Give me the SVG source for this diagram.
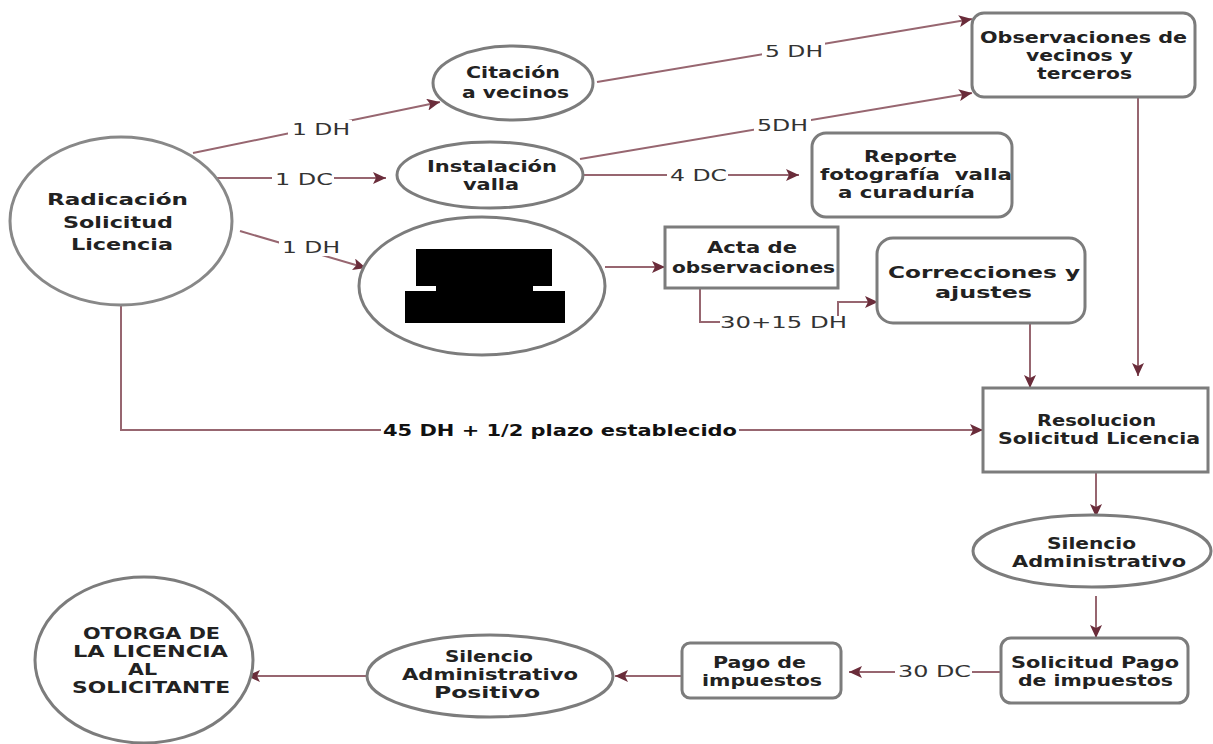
<svg xmlns="http://www.w3.org/2000/svg" width="1213" height="744" viewBox="0 0 1213 744">
<style>
.n{fill:#fff;stroke:#7c7c7c;stroke-width:3}
.t{font-family:"DejaVu Sans",Verdana,sans-serif;font-weight:bold;font-size:16px;fill:#222}
.tc{font-family:"DejaVu Sans",Verdana,sans-serif;font-weight:bold;font-size:16px;fill:#222}
.e{fill:none;stroke:#976670;stroke-width:2}
.l{font-family:"DejaVu Sans",Verdana,sans-serif;font-size:16px;fill:#333}
.lb{font-family:"DejaVu Sans",Verdana,sans-serif;font-weight:bold;font-size:16px;fill:#111}
.bg{fill:#fff}
</style>
<defs>
<marker id="a" markerUnits="userSpaceOnUse" markerWidth="14" markerHeight="12" refX="13" refY="6" orient="auto">
<path d="M0,0 L13,6 L0,12 L3,6 Z" fill="#6a2c3a"/>
</marker>
</defs>
<rect width="1213" height="744" fill="#fff"/>
<g id="connectors">
<path class="e" d="M193,153 L440,102" marker-end="url(#a)"/>
<path class="e" d="M213,178 L386,178" marker-end="url(#a)"/>
<path class="e" d="M240,231 L366,268" marker-end="url(#a)"/>
<path class="e" d="M597,82 L972,19" marker-end="url(#a)"/>
<path class="e" d="M580,159 L972,93" marker-end="url(#a)"/>
<path class="e" d="M583,175 L799,175" marker-end="url(#a)"/>
<path class="e" d="M605,267 L665,267" marker-end="url(#a)"/>
<path class="e" d="M700,288 V322 H720"/>
<path class="e" d="M838,316 V302 H878" marker-end="url(#a)"/>
<path class="e" d="M1030,323 V388" marker-end="url(#a)"/>
<path class="e" d="M1138,97 V376" marker-end="url(#a)"/>
<path class="e" d="M121,305 V430 H983" marker-end="url(#a)"/>
<path class="e" d="M1096,472 V517" marker-end="url(#a)"/>
<path class="e" d="M1096,596 V638" marker-end="url(#a)"/>
<path class="e" d="M1001,672 H849" marker-end="url(#a)"/>
<path class="e" d="M682,676 H615" marker-end="url(#a)"/>
<path class="e" d="M367,676 H247" marker-end="url(#a)"/>
<rect class="bg" x="288" y="120" width="64" height="18"/>
<text class="l" x="292" y="135" textLength="58" lengthAdjust="spacingAndGlyphs">1 DH</text>
<rect class="bg" x="272" y="171" width="62" height="16"/>
<text class="l" x="275" y="185" textLength="58" lengthAdjust="spacingAndGlyphs">1 DC</text>
<rect class="bg" x="279" y="239" width="64" height="17"/>
<text class="l" x="282" y="253" textLength="58" lengthAdjust="spacingAndGlyphs">1 DH</text>
<rect class="bg" x="762" y="42" width="63" height="17"/>
<text class="l" x="765" y="57" textLength="58" lengthAdjust="spacingAndGlyphs">5 DH</text>
<rect class="bg" x="754" y="116" width="57" height="17"/>
<text class="l" x="757" y="131" textLength="51" lengthAdjust="spacingAndGlyphs">5DH</text>
<rect class="bg" x="667" y="167" width="61" height="16"/>
<text class="l" x="670" y="181" textLength="57" lengthAdjust="spacingAndGlyphs">4 DC</text>
<text class="l" x="720" y="328" textLength="127" lengthAdjust="spacingAndGlyphs">30+15 DH</text>
<rect class="bg" x="895" y="663" width="77" height="16"/>
<text class="l" x="898" y="677" textLength="73" lengthAdjust="spacingAndGlyphs">30 DC</text>
<rect class="bg" x="381" y="421" width="358" height="18"/>
<text class="lb" x="383" y="436" textLength="354" lengthAdjust="spacingAndGlyphs">45 DH + 1/2 plazo establecido</text>
</g>
<g id="radicacion">
<ellipse class="n" cx="121" cy="221" rx="111" ry="84" style="stroke:#888"/>
<text class="t" x="47" y="205" textLength="141" lengthAdjust="spacingAndGlyphs">Radicación</text>
<text class="t" x="63" y="228" textLength="110" lengthAdjust="spacingAndGlyphs">Solicitud</text>
<text class="t" x="71" y="250" textLength="102" lengthAdjust="spacingAndGlyphs">Licencia</text>
</g>
<g id="citacion">
<ellipse class="n" cx="513" cy="83" rx="80" ry="37"/>
<text class="t" x="466" y="78" textLength="94" lengthAdjust="spacingAndGlyphs">Citación</text>
<text class="t" x="462" y="98" textLength="107" lengthAdjust="spacingAndGlyphs">a vecinos</text>
</g>
<g id="instalacion">
<ellipse class="n" cx="490" cy="175" rx="93" ry="33"/>
<text class="t" x="427" y="172" textLength="130" lengthAdjust="spacingAndGlyphs">Instalación</text>
<text class="t" x="463" y="190" textLength="56" lengthAdjust="spacingAndGlyphs">valla</text>
</g>
<g id="redactado">
<ellipse class="n" cx="482" cy="286" rx="123" ry="69"/>
<rect x="416" y="249" width="136" height="37" fill="#000"/>
<rect x="436" y="285" width="97" height="7" fill="#000"/>
<rect x="405" y="291" width="160" height="32" fill="#000"/>
</g>
<g id="observaciones">
<rect class="n" x="972" y="13" width="223" height="84" rx="12"/>
<text class="t" x="980" y="43" textLength="207" lengthAdjust="spacingAndGlyphs">Observaciones de</text>
<text class="t" x="1026" y="61" textLength="107" lengthAdjust="spacingAndGlyphs">vecinos y</text>
<text class="t" x="1037" y="79" textLength="95" lengthAdjust="spacingAndGlyphs">terceros</text>
</g>
<g id="reporte">
<rect class="n" x="812" y="133" width="200" height="84" rx="14"/>
<text class="t" x="864" y="162" textLength="93" lengthAdjust="spacingAndGlyphs">Reporte</text>
<text class="t" x="820" y="180" textLength="192" lengthAdjust="spacingAndGlyphs">fotografía&#160; valla</text>
<text class="t" x="838" y="198" textLength="137" lengthAdjust="spacingAndGlyphs">a curaduría</text>
</g>
<g id="acta">
<rect class="n" x="665" y="227" width="173" height="61"/>
<text class="t" x="707" y="253" textLength="90" lengthAdjust="spacingAndGlyphs">Acta de</text>
<text class="t" x="672" y="273" textLength="163" lengthAdjust="spacingAndGlyphs">observaciones</text>
</g>
<g id="correcciones">
<rect class="n" x="877" y="238" width="208" height="85" rx="16"/>
<text class="t" x="888" y="278" textLength="192" lengthAdjust="spacingAndGlyphs">Correcciones y</text>
<text class="t" x="935" y="298" textLength="97" lengthAdjust="spacingAndGlyphs">ajustes</text>
</g>
<g id="resolucion">
<rect class="n" x="983" y="388" width="225" height="84"/>
<text class="t" x="1037" y="426" textLength="119" lengthAdjust="spacingAndGlyphs">Resolucion</text>
<text class="t" x="998" y="444" textLength="202" lengthAdjust="spacingAndGlyphs">Solicitud Licencia</text>
</g>
<g id="silencio-administrativo">
<ellipse class="n" cx="1092" cy="551" rx="119" ry="36"/>
<text class="t" x="1047" y="549" textLength="89" lengthAdjust="spacingAndGlyphs">Silencio</text>
<text class="t" x="1012" y="567" textLength="174" lengthAdjust="spacingAndGlyphs">Administrativo</text>
</g>
<g id="solicitud-pago">
<rect class="n" x="1001" y="638" width="187" height="65" rx="10"/>
<text class="t" x="1011" y="668" textLength="168" lengthAdjust="spacingAndGlyphs">Solicitud Pago</text>
<text class="t" x="1018" y="686" textLength="155" lengthAdjust="spacingAndGlyphs">de impuestos</text>
</g>
<g id="pago">
<rect class="n" x="682" y="643" width="159" height="55" rx="8"/>
<text class="t" x="713" y="668" textLength="93" lengthAdjust="spacingAndGlyphs">Pago de</text>
<text class="t" x="702" y="686" textLength="120" lengthAdjust="spacingAndGlyphs">impuestos</text>
</g>
<g id="silencio-positivo">
<ellipse class="n" cx="490" cy="676" rx="123" ry="41"/>
<text class="t" x="445" y="662" textLength="88" lengthAdjust="spacingAndGlyphs">Silencio</text>
<text class="t" x="402" y="680" textLength="176" lengthAdjust="spacingAndGlyphs">Administrativo</text>
<text class="t" x="434" y="698" textLength="106" lengthAdjust="spacingAndGlyphs">Positivo</text>
</g>
<g id="otorga">
<ellipse class="n" cx="144" cy="660" rx="109" ry="83"/>
<text class="tc" x="83" y="639" textLength="137" lengthAdjust="spacingAndGlyphs">OTORGA DE</text>
<text class="tc" x="73" y="657" textLength="155" lengthAdjust="spacingAndGlyphs">LA LICENCIA</text>
<text class="tc" x="128" y="675" textLength="29" lengthAdjust="spacingAndGlyphs">AL</text>
<text class="tc" x="72" y="693" textLength="158" lengthAdjust="spacingAndGlyphs">SOLICITANTE</text>
</g>
</svg>
